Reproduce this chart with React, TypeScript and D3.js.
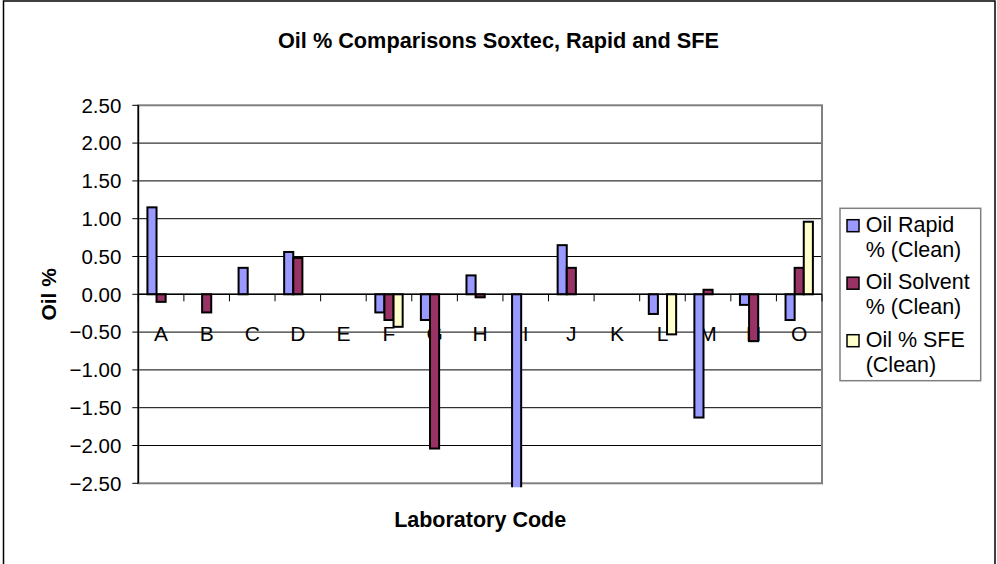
import React from "react";
import * as d3 from "d3";

const categories = ["A", "B", "C", "D", "E", "F", "G", "H", "I", "J", "K", "L", "M", "N", "O"];
const oilRapid: (number | null)[] = [1.15, null, 0.35, 0.56, null, -0.24, -0.34, 0.25, -2.6, 0.65, null, -0.26, -1.63, -0.14, -0.34];
const oilSolvent: (number | null)[] = [-0.1, -0.24, null, 0.48, null, -0.34, -2.04, -0.04, null, 0.35, null, null, 0.06, -0.62, 0.35];
const oilSFE: (number | null)[] = [null, null, null, null, null, -0.43, null, null, null, null, null, -0.53, null, null, 0.96];
const seriesNames = ["Oil Rapid % (Clean)", "Oil Solvent % (Clean)", "Oil % SFE (Clean)"];
const legendLines = [["Oil Rapid", "% (Clean)"], ["Oil Solvent", "% (Clean)"], ["Oil % SFE", "(Clean)"]];
const seriesColors = ["#9999FF", "#993366", "#FFFFCC"];
const yTicks = [2.5, 2.0, 1.5, 1.0, 0.5, 0.0, -0.5, -1.0, -1.5, -2.0, -2.5];

const W = 997;
const H = 564;
const plot = { left: 138.3, right: 822, top: 105.3, bottom: 483.3 };
const FONT = "'Liberation Sans', Arial, Helvetica, sans-serif";

export default function App() {
  const y = d3.scaleLinear().domain([-2.5, 2.5]).range([plot.bottom, plot.top]);
  const x = d3.scaleBand<string>().domain(categories).range([plot.left, plot.right]).padding(0);
  const bw = x.bandwidth();
  const xs = d3.scaleBand<string>().domain(seriesNames).range([0, bw]).paddingInner(0).paddingOuter(1);
  const series = [oilRapid, oilSolvent, oilSFE];
  const y0 = y(0);

  return (
    <svg width={W} height={H} style={{ position: "absolute", left: 0, top: 0, background: "#fff" }} fontFamily={FONT}>
      <defs>
        <clipPath id="plotClip">
          <rect x={plot.left} y={plot.top} width={plot.right - plot.left} height={plot.bottom - plot.top + 4} />
        </clipPath>
      </defs>
      {/* chart area border */}
      <rect x={3.5} y={1} width={991.5} height={H + 10} fill="#fff" stroke="#000" strokeWidth={1.5} />
      {/* title */}
      <text x={W / 2} y={48} textAnchor="middle" fontWeight="bold" fontSize={21.7}>
        Oil % Comparisons Soxtec, Rapid and SFE
      </text>
      {/* gridlines */}
      {yTicks.filter((t) => t !== 2.5 && t !== -2.5).map((t) => (
        <line key={"g" + t} x1={plot.left} x2={plot.right} y1={y(t)} y2={y(t)} stroke="#000" strokeWidth={1} />
      ))}
      {/* plot area border (gray) */}
      <rect x={plot.left} y={plot.top} width={plot.right - plot.left} height={plot.bottom - plot.top} fill="none" stroke="#808080" strokeWidth={2} />
      {/* x category labels */}
      {categories.map((c) => (
        <text key={"xl" + c} x={(x(c) as number) + bw / 2} y={y0 + 47} textAnchor="middle" fontSize={21}>
          {c}
        </text>
      ))}
      {/* bars */}
      <g clipPath="url(#plotClip)">
        {series.map((vals, si) =>
          vals.map((v, i) => {
            if (v === null) return null;
            const c = categories[i];
            const bx = (x(c) as number) + (xs(seriesNames[si]) as number);
            const top = Math.min(y(v), y0);
            const h = Math.abs(y(v) - y0);
            return (
              <rect key={"b" + si + "-" + i} x={bx} y={top} width={xs.bandwidth()} height={h} fill={seriesColors[si]} stroke="#000" strokeWidth={2} />
            );
          })
        )}
      </g>
      {/* x axis at zero */}
      <line x1={plot.left} x2={plot.right} y1={y0} y2={y0} stroke="#000" strokeWidth={1.5} />
      {categories.map((c) => (
        <line key={"xt" + c} x1={x(c) as number} x2={x(c) as number} y1={y0} y2={y0 + 7} stroke="#000" strokeWidth={1} />
      ))}
      <line x1={plot.right} x2={plot.right} y1={y0} y2={y0 + 7} stroke="#000" strokeWidth={1} />
      {/* y axis */}
      <line x1={plot.left} x2={plot.left} y1={plot.top} y2={plot.bottom} stroke="#000" strokeWidth={1.5} />
      {yTicks.map((t) => (
        <g key={"yt" + t}>
          <line x1={plot.left - 6} x2={plot.left} y1={y(t)} y2={y(t)} stroke="#000" strokeWidth={1} />
          <text x={plot.left - 17} y={y(t)} dy="0.36em" textAnchor="end" fontSize={20.5}>
            {d3.format(".2f")(t)}
          </text>
        </g>
      ))}
      {/* axis titles */}
      <text x={(plot.left + plot.right) / 2} y={527} textAnchor="middle" fontWeight="bold" fontSize={21.5}>
        Laboratory Code
      </text>
      <text transform={`translate(56,${(plot.top + plot.bottom) / 2}) rotate(-90)`} textAnchor="middle" fontWeight="bold" fontSize={21}>
        Oil %
      </text>
      {/* legend */}
      <rect x={840} y={208.3} width={140.7} height={172.4} fill="#fff" stroke="#808080" strokeWidth={1.5} />
      {legendLines.map((lines, i) => {
        const base = 231.7 + i * 57.5;
        return (
          <g key={"lg" + i}>
            <rect x={847} y={base - 12} width={12} height={12} fill={seriesColors[i]} stroke="#000" strokeWidth={1.5} />
            <text x={865.7} y={base} fontSize={21.5}>{lines[0]}</text>
            <text x={865.7} y={base + 25} fontSize={21.5}>{lines[1]}</text>
          </g>
        );
      })}
    </svg>
  );
}
